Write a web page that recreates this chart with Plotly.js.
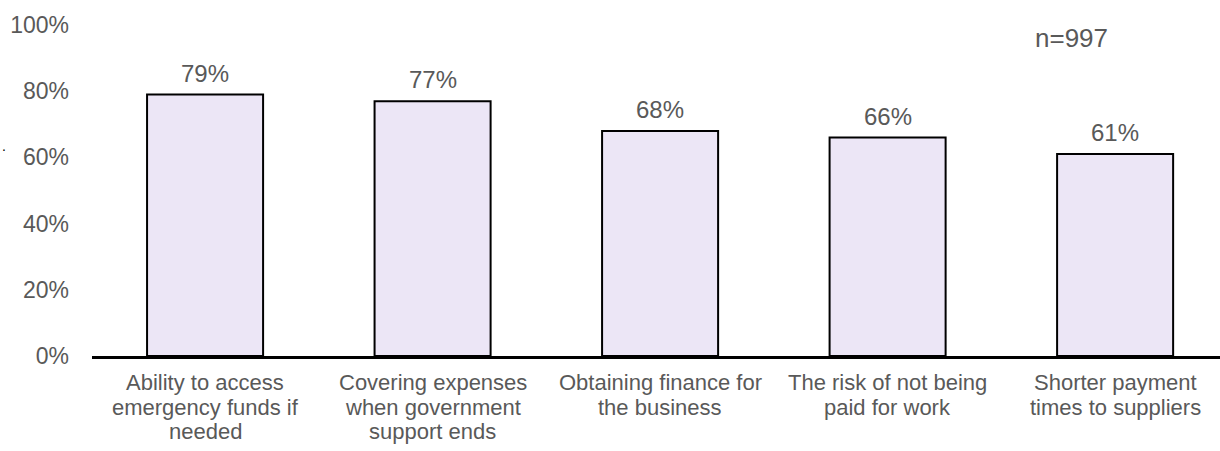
<!DOCTYPE html>
<html>
<head>
<meta charset="utf-8">
<script src="https://cdn.plot.ly/plotly-3.0.1.min.js"></script>
<style>
  html, body { margin: 0; padding: 0; background: #ffffff; }
  #chart { width: 1220px; height: 451px; }
</style>
</head>
<body>
<div id="chart"></div>
<script>
// Concerns about business finances (share of respondents)
const categories = [
  "Ability to access emergency funds if needed",
  "Covering expenses when government support ends",
  "Obtaining finance for the business",
  "The risk of not being paid for work",
  "Shorter payment times to suppliers"
];
// Category labels broken into their printed lines
const labelLines = [
  ["Ability to access", "emergency funds if", "needed"],
  ["Covering expenses", "when government", "support ends"],
  ["Obtaining finance for", "the business"],
  ["The risk of not being", "paid for work"],
  ["Shorter payment", "times to suppliers"]
];
const shares = [0.79, 0.77, 0.68, 0.66, 0.61];
const sampleNote = "n=997";

const TEXT = "#595959";
const FONT = "Liberation Sans, Arial, sans-serif";
const LABEL_FS = 22;
const LINE_GAP = 24.6;

const xIdx = categories.map((_, i) => i);

const trace = {
  type: "bar",
  x: xIdx,
  y: shares,
  width: 0.51,
  marker: { color: "#ECE6F6", line: { color: "#000000", width: 2 } },
  hoverinfo: "skip"
};

const annotations = [];
// value labels above each bar
shares.forEach((v, i) => {
  annotations.push({
    xref: "x", yref: "y", x: i, y: v,
    xanchor: "center", yanchor: "bottom", yshift: 6,
    text: Math.round(v * 100) + "%", showarrow: false,
    font: { family: FONT, size: 24, color: TEXT }
  });
});
// category labels, one annotation per printed line
labelLines.forEach((lines, i) => {
  lines.forEach((line, j) => {
    annotations.push({
      xref: "x", yref: "paper", x: i, y: 0,
      xanchor: "center", yanchor: "top",
      yshift: -(13 + j * LINE_GAP),
      borderpad: 0,
      text: line, showarrow: false,
      font: { family: FONT, size: LABEL_FS, color: TEXT }
    });
  });
});
annotations.push({
  xref: "paper", yref: "paper", x: 0.834, y: 0.96,
  xanchor: "left", yanchor: "middle",
  text: sampleNote, showarrow: false,
  font: { family: FONT, size: 26, color: TEXT }
});
annotations.push({
  xref: "paper", yref: "paper", x: -0.078, y: 0.635,
  xanchor: "center", yanchor: "middle",
  text: ".", showarrow: false,
  font: { family: FONT, size: 14, color: "#000000" }
});

const layout = {
  width: 1220, height: 451,
  margin: { l: 92, r: 0, t: 25, b: 95, pad: 0 },
  paper_bgcolor: "#ffffff", plot_bgcolor: "#ffffff",
  showlegend: false,
  xaxis: {
    range: [-0.497, 4.461],
    showticklabels: false, ticks: "",
    showgrid: false, zeroline: false,
    showline: true, linecolor: "#000000", linewidth: 3
  },
  yaxis: {
    range: [0, 1],
    tickvals: [0, 0.2, 0.4, 0.6, 0.8, 1.0],
    tickformat: ".0%",
    tickfont: { family: FONT, size: 23, color: TEXT },
    ticks: "", ticklabelstandoff: 22,
    showgrid: false, zeroline: false, showline: false
  },
  annotations: annotations
};

Plotly.newPlot("chart", [trace], layout, { staticPlot: true, displayModeBar: false });
</script>
</body>
</html>
